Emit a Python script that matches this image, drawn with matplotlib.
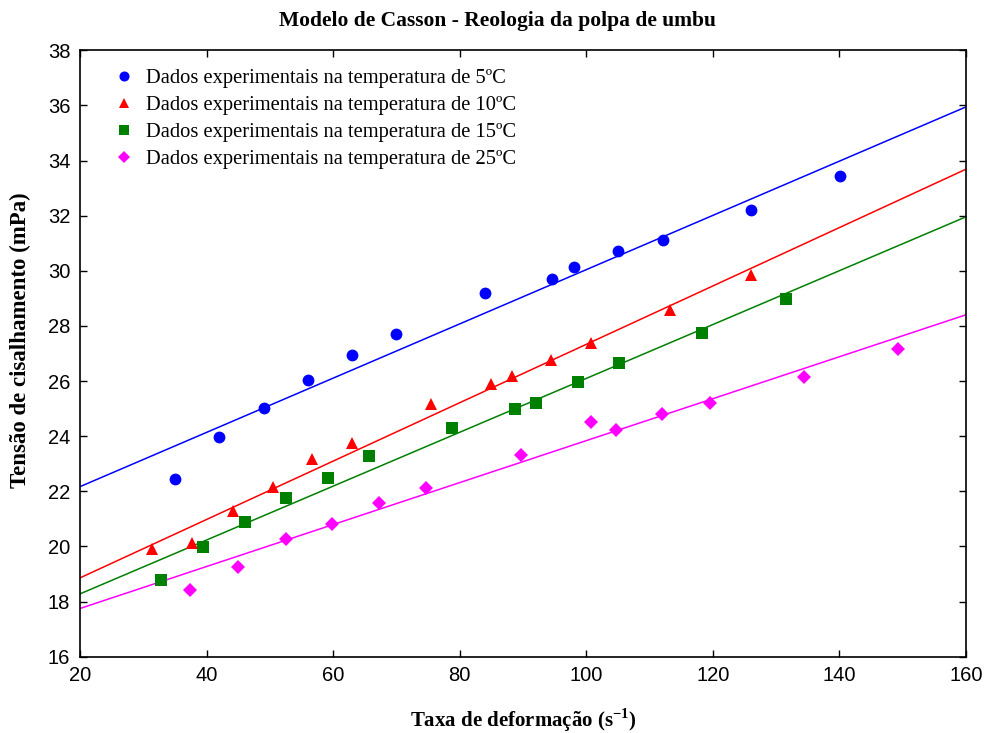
import numpy as np
import matplotlib
matplotlib.use('Agg')
import matplotlib.pyplot as plt

# shear rate (1/s) and shear stress (mPa)
x_5 = [35.0, 41.9, 49.0, 56.0, 63.0, 70.0, 84.0, 94.6, 98.1, 105.0, 112.1, 126.1, 140.1]
y_5 = [22.46, 23.98, 25.01, 26.03, 26.96, 27.70, 29.18, 29.72, 30.12, 30.73, 31.12, 32.20, 33.45]

x_10 = [31.4, 37.7, 44.1, 50.5, 56.7, 62.9, 75.5, 85.0, 88.2, 94.4, 100.8, 113.2, 126.1]
y_10 = [19.90, 20.14, 21.28, 22.17, 23.18, 23.76, 25.15, 25.90, 26.17, 26.78, 27.38, 28.57, 29.85]

x_15 = [32.8, 39.4, 46.0, 52.5, 59.2, 65.7, 78.8, 88.8, 92.1, 98.7, 105.2, 118.3, 131.5]
y_15 = [18.80, 19.97, 20.90, 21.74, 22.49, 23.28, 24.28, 24.97, 25.21, 25.95, 26.66, 27.76, 28.99]

x_25 = [37.3, 44.9, 52.5, 59.8, 67.3, 74.7, 89.7, 100.8, 104.7, 112.0, 119.5, 134.4, 149.3]
y_25 = [18.43, 19.24, 20.28, 20.83, 21.59, 22.13, 23.31, 24.51, 24.24, 24.80, 25.20, 26.13, 27.18]

# fitted lines (value at x=20 and slope)
fit_start = [22.17, 18.86, 18.28, 17.75]
fit_slope = [0.0984, 0.1059, 0.0977, 0.0761]

labels = ['Dados experimentais na temperatura de 5ºC',
          'Dados experimentais na temperatura de 10ºC',
          'Dados experimentais na temperatura de 15ºC',
          'Dados experimentais na temperatura de 25ºC']
colors = ['#0000ff', '#ff0000', '#008000', '#ff00ff']
markers = ['o', '^', 's', 'D']
msizes = [8.5, 8.5, 8, 7]

xs = [x_5, x_10, x_15, x_25]
ys = [y_5, y_10, y_15, y_25]

fig = plt.figure(figsize=(9.87, 7.33), dpi=100)
ax = fig.add_axes([0.0811, 0.1041, 0.8976, 0.8273])

xl = np.array([20, 160])
for i in range(4):
    ax.plot(xl, fit_start[i] + fit_slope[i] * (xl - 20), color=colors[i], lw=1.1, zorder=2)
for i in range(4):
    ax.plot(xs[i], ys[i], linestyle='none', marker=markers[i], color=colors[i],
            markersize=msizes[i], markeredgewidth=0, label=labels[i], zorder=3)

ax.set_xlim(20, 160)
ax.set_ylim(16, 38)
ax.set_xticks(np.arange(20, 161, 20))
ax.set_yticks(np.arange(16, 39, 2))
ax.tick_params(direction='in', top=True, right=True, length=5, width=1,
               labelsize=14.5, pad=7)
for lab in ax.get_xticklabels() + ax.get_yticklabels():
    lab.set_family('Liberation Sans')
for s in ax.spines.values():
    s.set_linewidth(1.2)

fig.text(0.5036, 0.972, 'Modelo de Casson - Reologia da polpa de umbu', family='Liberation Serif',
         fontweight='bold', fontsize=15.5, ha='center', va='center')
ax.set_xlabel('Taxa de deformação (s$^{\\mathregular{-1}}$)', family='Liberation Serif',
              fontweight='bold', fontsize=15, labelpad=15)
ax.set_ylabel('Tensão de cisalhamento (mPa)', family='Liberation Serif',
              fontweight='bold', fontsize=16.5, va='center')
ax.yaxis.set_label_coords(-0.0677, 0.522)

ax.legend(loc='upper left', frameon=False, prop={'family': 'Liberation Serif', 'size': 14.8},
          handletextpad=0.3, labelspacing=0.37, borderaxespad=0.6, handlelength=1.5,
          markerscale=0.85, bbox_to_anchor=(0.009, 1.003))

fig.savefig('out.png', dpi=100)
